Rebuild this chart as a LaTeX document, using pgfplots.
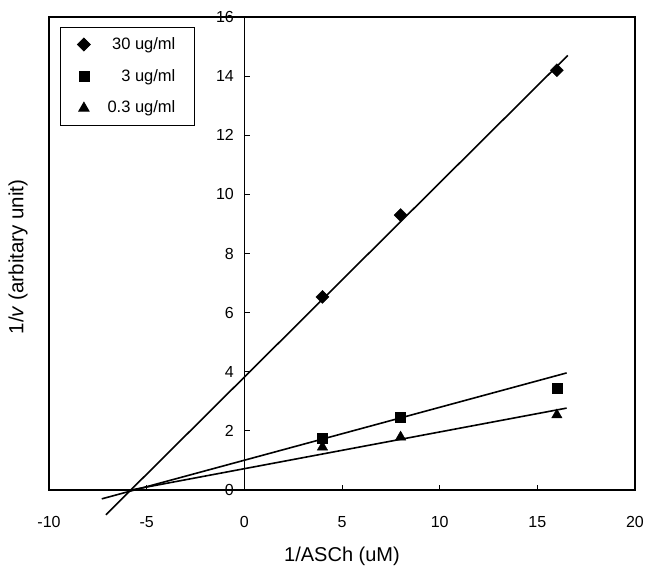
\documentclass[border=0pt]{standalone}
\usepackage{fontspec}
\setmainfont{Liberation Sans}
\usepackage{pgfplots}
\pgfplotsset{compat=1.18}
\begin{document}
\fontsize{16}{19}\selectfont
\begin{tikzpicture}
\begin{axis}[
 at={(0,0)}, anchor=south west,
 scale only axis, width=586pt, height=473pt,
 xmin=-10, xmax=20, ymin=0, ymax=16,
 clip=false,
 axis line style={line width=1.4pt},
 xtick={-10,-5,...,20}, ytick=\empty,
 xtick pos=bottom, tick align=inside,
 major tick length=5pt,
 every tick/.style={black, line width=0.8pt},
 /pgf/number format/assume math mode=true,
 xticklabel style={font=\fontsize{16}{19}\selectfont, yshift=-21pt},
 xlabel={1/ASCh (uM)},
 xlabel style={at={(axis description cs:0.5,-0.1512)}, anchor=base, font=\fontsize{20}{24}\selectfont},
 ylabel={1/\textit{v} (arbitary unit)},
 ylabel style={at={(axis description cs:-0.0529,0.4926)}, anchor=center, font=\fontsize{20.5}{24}\selectfont},
 legend style={at={(axis description cs:0.0188,0.979)}, anchor=north west, draw=black, line width=0.8pt,
   row sep=13.5pt, inner xsep=17pt, inner ysep=8pt, font=\fontsize{16.5}{20}\selectfont},
 legend cell align=right,
]
\addplot[only marks, mark=square*, mark options={rotate=45}, mark size=4.6pt, black] coordinates {(4,6.53) (8,9.30) (16,14.2)};
\addlegendentry{\makebox[83pt][r]{30 ug/ml}}
\addplot[only marks, mark=square*, mark size=5pt, black] coordinates {(4,1.76) (8,2.47) (16,3.45)};
\addlegendentry{\makebox[83pt][r]{3 ug/ml}}
\addplot[only marks, mark=triangle*, mark size=6pt, black] coordinates {(4,1.45) (8,1.79) (16,2.54)};
\addlegendentry{\makebox[83pt][r]{0.3 ug/ml}}
\addplot[no marks, black, line width=1.6pt, forget plot] coordinates {(-7.09,-0.84) (16.56,14.7)};
\addplot[no marks, black, line width=1.6pt, forget plot] coordinates {(-7.3,-0.30) (16.5,3.96)};
\addplot[no marks, black, line width=1.6pt, forget plot] coordinates {(-5.8,0) (16.5,2.77)};
\end{axis}
\begin{axis}[
 at={(0,0)}, anchor=south west,
 scale only axis, width=586pt, height=473pt,
 xmin=-10, xmax=20, ymin=0, ymax=16,
 axis x line=none, axis y line*=middle,
 axis line style={line width=0.8pt},
 ytick={0,2,...,16},
 ytick align=inside,
 major tick length=6pt,
 every tick/.style={black, line width=0.8pt},
 /pgf/number format/assume math mode=true,
 yticklabel style={font=\fontsize{16}{19}\selectfont, xshift=-5pt},
]
\end{axis}
\pgfresetboundingbox
\path[use as bounding box] (-49pt,-77pt) rectangle (600pt,490pt);
\end{tikzpicture}
\end{document}
